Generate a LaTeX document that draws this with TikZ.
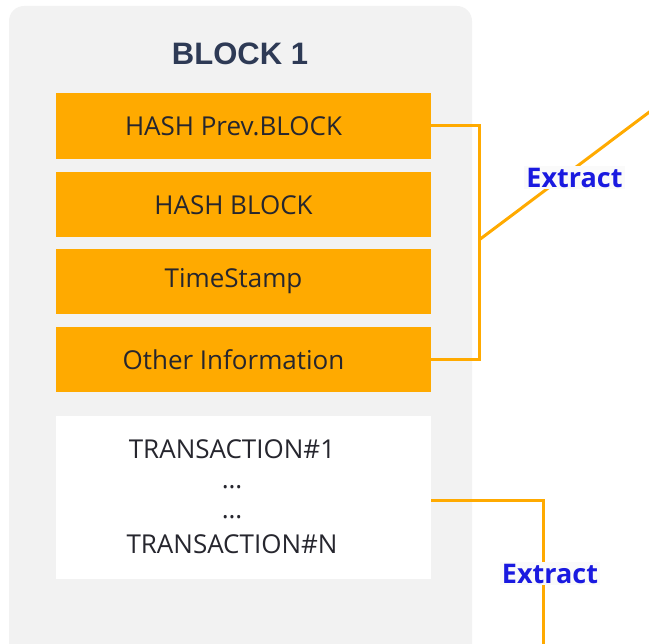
\documentclass[tikz,border=0pt]{standalone}
\usepackage{fontspec}
\usepackage{tikz}
\usetikzlibrary{positioning}
\newfontfamily\boxfont{Open Sans}
\newfontfamily\titlefont{Liberation Sans}
\definecolor{panelgrey}{HTML}{F2F2F2}
\definecolor{fieldorange}{HTML}{FFAA00}
\definecolor{titlenavy}{HTML}{2E3A55}
\definecolor{textdark}{HTML}{26262E}
\definecolor{extractblue}{HTML}{1A1AE0}

\tikzset{
  field/.style={fill=fieldorange, minimum width=375pt, minimum height=65pt,
    inner sep=0pt},
  txbox/.style={fill=white, minimum width=375pt, minimum height=163pt,
    inner sep=0pt},
  fieldtext/.style={xshift=-10pt, inner sep=0pt, text=textdark, align=center,
    font=\boxfont\fontsize{26}{30}\selectfont},
  conn/.style={draw=fieldorange, line width=3pt},
  tag/.style={fill=white!98!black, inner sep=2pt, text=extractblue,
    font=\boxfont\bfseries\fontsize{27}{30}\selectfont}
}

\begin{document}
\begin{tikzpicture}[x=1pt,y=-1pt,node distance=12pt]
    \useasboundingbox (0,0) rectangle (649,644);
    \clip (0,0) rectangle (649,644);
    \fill[panelgrey, rounded corners=15pt] (9,6) rectangle (472,680);

    \node[text=titlenavy, font=\titlefont\bfseries\fontsize{31}{34}\selectfont]
        (title) at (240,54) {BLOCK 1};

    \node[field, minimum height=66pt, label={[fieldtext]center:HASH Prev.BLOCK}]
        (prev) at (243.5,126) {};
    \node[field, label={[fieldtext]center:HASH BLOCK}]
        (hash)  [below=13pt of prev] {};
    \node[field, label={[fieldtext]center:TimeStamp}]
        (stamp) [below=11pt of hash] {};
    \node[field, label={[fieldtext]center:Other Information}]
        (other) [below=13pt of stamp] {};
    \node[txbox, label={[fieldtext, xshift=-1.5pt]center:{TRANSACTION\#1\\\dots\\\dots\\[5pt]TRANSACTION\#N}}]
        (tx) [below=23pt of other] {};

    % header fields -> extract
    \coordinate (brk)  at (479,240);
    \coordinate (out1) at (652,110);
    \draw[conn] (prev.east) -- ++(48,0) |- (other.east);
    \draw[conn] (brk) -- (out1);
    \node[tag] (ext1) at (574.5,177.5) {Extract};

    % transactions -> extract
    \coordinate (out2) at (543,650);
    \draw[conn] ([yshift=-3.5pt]tx.east) -| (out2);
    \node[tag] (ext2) at (550,573.5) {Extract};
\end{tikzpicture}
\end{document}
